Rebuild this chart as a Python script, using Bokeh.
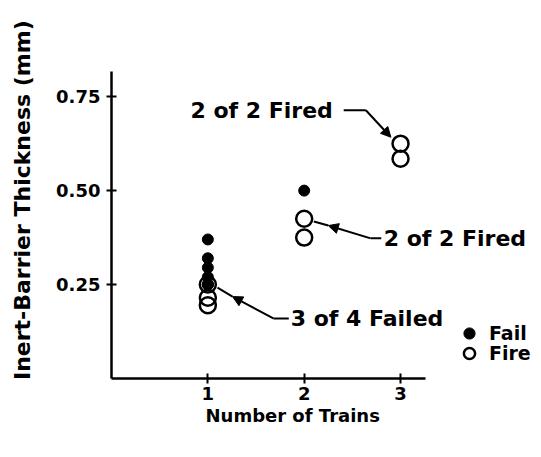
from bokeh.plotting import figure
from bokeh.models import (Label, Arrow, NormalHead, FixedTicker, Legend,
                          LegendItem, Range1d, Title)
from bokeh.embed import file_html
from bokeh.resources import INLINE

# ---- data ----
trains_fail = [1, 1, 1, 1, 1, 1, 1, 2]
thick_fail = [0.37, 0.32, 0.295, 0.27, 0.25, 0.25, 0.25, 0.50]
trains_fire = [1, 1, 1, 2, 2, 3, 3]
thick_fire = [0.25, 0.215, 0.195, 0.425, 0.375, 0.625, 0.585]

x_ticks = [1, 2, 3]
y_ticks = [0.25, 0.50, 0.75]
y_tick_labels = {0.25: "0.25", 0.5: "0.50", 0.75: "0.75"}

notes = ["2 of 2  Fired", "2 of 2  Fired", "3 of 4  Failed"]

FONT = "DejaVu Sans"

p = figure(width=533, height=449, frame_width=422, frame_height=372,
           x_range=Range1d(0, 4.38), y_range=Range1d(0, 0.99),
           output_backend="svg", toolbar_location=None,
           min_border_left=111, min_border_right=0,
           min_border_top=6, min_border_bottom=71)

p.xgrid.visible = False
p.ygrid.visible = False
p.outline_line_color = None
p.background_fill_color = "white"

for ax in (p.xaxis[0], p.yaxis[0]):
    ax.axis_line_width = 2.5
    ax.axis_line_color = "black"
    ax.major_tick_line_width = 2
    ax.major_tick_in = 5
    ax.major_tick_out = 5
    ax.minor_tick_line_color = None
    ax.major_label_text_font = FONT
    ax.major_label_text_font_style = "bold"
    ax.major_label_text_font_size = "18px"
    ax.major_label_text_color = "black"
    ax.axis_label_text_font = FONT
    ax.axis_label_text_font_style = "bold"
    ax.axis_label_text_color = "black"

p.xaxis.ticker = FixedTicker(ticks=x_ticks)
p.yaxis.ticker = FixedTicker(ticks=y_ticks)
p.xaxis.bounds = (0, 3.26)
p.yaxis.bounds = (0, 0.816)
p.yaxis.major_label_overrides = y_tick_labels
p.xaxis.major_label_standoff = 3
p.yaxis.major_label_standoff = 6
p.yaxis.axis_label = "Inert-Barrier  Thickness  (mm)"
p.yaxis.axis_label_text_font_size = "22px"
p.yaxis.axis_label_standoff = 18

xlabel = Title(text="Number  of  Trains", align="left", offset=94,
               text_font=FONT, text_font_style="bold", text_font_size="18px",
               text_color="black", standoff=0)
p.add_layout(xlabel, "below")

fire = p.scatter(trains_fire, thick_fire, size=16, marker="circle",
                 fill_color=None, line_color="black", line_width=2.5)
fail = p.scatter(trains_fail, thick_fail, size=11, marker="circle",
                 fill_color="black", line_color="black")

legend_style = dict(padding=0, margin=0, spacing=0,
                    border_line_color=None, background_fill_alpha=0,
                    glyph_width=28, glyph_height=28, label_height=20,
                    label_standoff=6,
                    label_text_font=FONT, label_text_font_style="bold",
                    label_text_font_size="19px", label_text_color="black")
legend_fail = Legend(items=[LegendItem(label="Fail", renderers=[fail])],
                     location=(344, 31), **legend_style)
legend_fire = Legend(items=[LegendItem(label="Fire", renderers=[fire])],
                     location=(344, 11), **legend_style)
p.add_layout(legend_fail, "center")
p.add_layout(legend_fire, "center")

# annotation texts
text_pos = [(0.82, 0.714), (2.825, 0.373), (1.86, 0.160)]
for (tx, ty), t in zip(text_pos, notes):
    p.add_layout(Label(x=tx, y=ty, text=t, text_baseline="middle",
                       text_font=FONT, text_font_style="bold",
                       text_font_size="22px", text_color="black"))

# leader lines: (x0, y0, x1, y1, with_head)
leaders = [
    (2.41, 0.714, 2.64, 0.714, False),
    (2.64, 0.714, 2.90, 0.642, True),
    (2.80, 0.373, 2.69, 0.373, False),
    (2.69, 0.373, 2.25, 0.407, True),
    (2.25, 0.407, 2.10, 0.418, False),
    (1.84, 0.160, 1.68, 0.160, False),
    (1.68, 0.160, 1.256, 0.218, True),
    (1.256, 0.218, 1.10, 0.242, False),
]
for x0, y0, x1, y1, head in leaders:
    end = NormalHead(size=10, fill_color="black", line_color="black", line_width=1) if head else None
    p.add_layout(Arrow(x_start=x0, y_start=y0, x_end=x1, y_end=y1,
                       line_width=2, line_color="black", end=end))

open("out.html", "w").write(file_html(p, INLINE))
